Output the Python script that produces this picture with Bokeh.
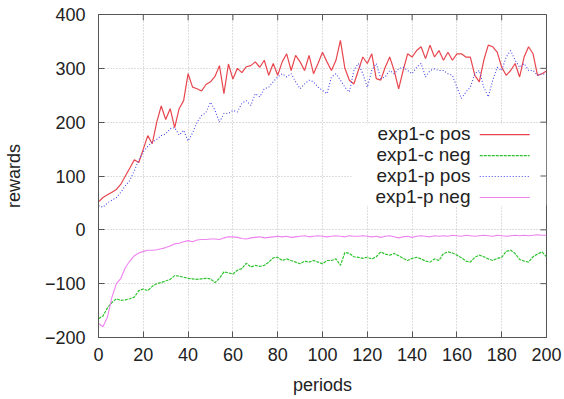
from bokeh.plotting import figure
from bokeh.models import Range1d, FixedTicker, Label, BoxAnnotation
from bokeh.embed import file_html
from bokeh.resources import INLINE

periods = list(range(0, 201, 2))

c_pos = [52, 60, 65, 70, 75, 85, 100, 115, 130, 125,
         150, 175, 160, 200, 230, 205, 225, 190, 225, 240,
         290, 265, 262, 258, 270, 275, 285, 305, 253, 308,
         280, 300, 292, 303, 305, 312, 302, 315, 287, 309,
         287, 312, 327, 296, 324, 312, 296, 324, 290, 309,
         330, 312, 296, 315, 352, 300, 278, 271, 296, 321,
         309, 327, 281, 278, 302, 321, 296, 262, 296, 327,
         321, 333, 340, 318, 343, 321, 333, 315, 330, 315,
         327, 327, 321, 321, 287, 275, 315, 343, 340, 330,
         302, 287, 296, 309, 284, 321, 340, 327, 287, 290,
         295]

p_pos = [45, 42, 50, 55, 60, 70, 82, 92, 110, 130,
         145, 155, 163, 168, 175, 178, 188, 190, 176, 185,
         165, 180, 200, 212, 218, 237, 222, 200, 216, 216,
         222, 219, 235, 240, 231, 253, 247, 262, 265, 275,
         284, 290, 284, 290, 275, 262, 271, 278, 275, 265,
         259, 253, 284, 290, 278, 265, 256, 296, 309, 290,
         265, 296, 309, 281, 284, 296, 290, 299, 302, 296,
         290, 302, 309, 284, 296, 299, 296, 296, 290, 287,
         265, 244, 256, 265, 290, 296, 265, 247, 278, 302,
         296, 321, 333, 315, 302, 309, 296, 296, 287, 290,
         288]

c_neg = [-165, -160, -145, -135, -128, -131, -130, -128, -125, -113,
         -110, -113, -105, -100, -98, -95, -92, -85, -86, -88,
         -90, -91, -92, -91, -90, -91, -98, -90, -78, -80,
         -82, -75, -72, -62, -69, -66, -68, -66, -60, -52,
         -51, -57, -54, -57, -60, -63, -58, -60, -57, -60,
         -63, -57, -57, -54, -66, -42, -44, -50, -51, -53,
         -51, -54, -50, -41, -45, -47, -44, -48, -53, -57,
         -53, -51, -54, -58, -60, -54, -57, -44, -41, -43,
         -47, -52, -58, -60, -51, -47, -50, -54, -57, -53,
         -51, -40, -38, -44, -55, -58, -60, -50, -45, -41,
         -50]

p_neg = [-174, -180, -162, -125, -100, -90, -70, -58, -48, -43,
         -40, -38, -38, -37, -35, -33, -30, -26, -25, -22,
         -20, -22, -19, -18, -18, -17, -17, -18, -15, -13,
         -13, -14, -16, -17, -15, -14, -13, -15, -14, -13,
         -12, -13, -12, -14, -13, -12, -11, -13, -12, -11,
         -12, -13, -12, -11, -12, -13, -11, -12, -12, -11,
         -12, -13, -12, -14, -12, -11, -13, -15, -13, -12,
         -14, -12, -11, -12, -13, -11, -12, -11, -12, -10,
         -11, -12, -10, -11, -12, -11, -10, -11, -12, -10,
         -11, -12, -11, -10, -11, -10, -11, -10, -9, -10,
         -10]

series_names = ["exp1-c pos", "exp1-c neg", "exp1-p pos", "exp1-p neg"]
x_ticks = [0, 20, 40, 60, 80, 100, 120, 140, 160, 180, 200]
y_ticks = [-200, -100, 0, 100, 200, 300, 400]

FONT = "Liberation Sans"
TXT = "#222222"
FRAME = "#555555"

p = figure(width=564, height=399, output_backend="svg", toolbar_location=None,
           x_range=Range1d(0, 200), y_range=Range1d(-200, 400),
           min_border_left=96, min_border_right=18, min_border_top=14, min_border_bottom=62)
p.outline_line_color = FRAME
p.outline_line_width = 1

p.xaxis.ticker = FixedTicker(ticks=x_ticks)
p.yaxis.ticker = FixedTicker(ticks=y_ticks)
p.xgrid.ticker = FixedTicker(ticks=x_ticks)
p.ygrid.ticker = FixedTicker(ticks=y_ticks)
for g in (p.xgrid, p.ygrid):
    g.grid_line_color = "#bcbcbc"
    g.grid_line_dash = "1 2"
    g.grid_line_width = 1

for ax in (p.xaxis, p.yaxis):
    ax.major_tick_in = 6
    ax.major_tick_out = 0
    ax.minor_tick_in = 0
    ax.minor_tick_out = 0
    ax.axis_line_color = FRAME
    ax.major_tick_line_color = FRAME
    ax.major_label_text_font = FONT
    ax.major_label_text_font_size = "18px"
    ax.major_label_text_color = TXT
    ax.axis_label_text_font = FONT
    ax.axis_label_text_font_size = "18px"
    ax.axis_label_text_font_style = "normal"
    ax.axis_label_text_color = TXT

p.xaxis.axis_label = "periods"
p.yaxis.axis_label = "rewards"
p.xaxis.major_label_standoff = 10
p.yaxis.major_label_standoff = 13
p.xaxis.axis_label_standoff = 11
p.yaxis.axis_label_standoff = 18

# mirrored inward ticks on the top and right edges (about 6 px long)
TX = 2.7   # 6 px in period units
TY = 11.0  # 6 px in reward units
p.segment(x0=x_ticks, y0=[400] * len(x_ticks), x1=x_ticks, y1=[400 - TY] * len(x_ticks),
          line_color=FRAME, line_width=1)
p.segment(x0=[200] * len(y_ticks), y0=y_ticks, x1=[200 - TX] * len(y_ticks), y1=y_ticks,
          line_color=FRAME, line_width=1)

# white key background
p.add_layout(BoxAnnotation(left=113, right=200, top=197, bottom=45,
                           fill_color="white", fill_alpha=1, line_color=None, level="underlay"))

styles = [dict(line_color="#e8464e", line_width=1.2),
          dict(line_color="#2fc42f", line_width=1.2, line_dash="3 1"),
          dict(line_color="#4646ee", line_width=1.1, line_dash="1 2"),
          dict(line_color="#ee82ee", line_width=1.1)]
series = [c_pos, c_neg, p_pos, p_neg]
for vals, st in zip(series, styles):
    p.line(periods, vals, **st)

# key: text right-aligned, sample line to its right
row_y = [204, 183, 162, 141]
key_vals = [177, 138, 99, 60]
for name, yy, kv, st in zip(series_names, row_y, key_vals, styles):
    p.add_layout(Label(x=372, y=yy, x_units="screen", y_units="screen", text=name,
                       text_align="right", text_baseline="middle",
                       text_font=FONT, text_font_size="19px", text_color=TXT))
    p.line([170.2, 192.5], [kv, kv], **st)

open("out.html", "w").write(file_html(p, INLINE))
